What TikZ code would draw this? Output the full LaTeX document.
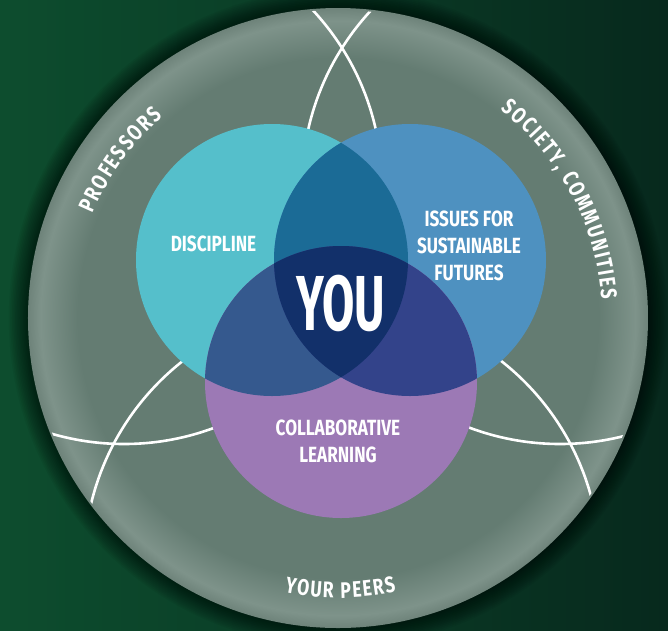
\documentclass[tikz,border=0pt]{standalone}
\usepackage{fontspec}
\usetikzlibrary{decorations.text}
\newfontfamily\dinfont[FakeStretch=0.78]{Fira Sans}
\newfontfamily\youfont[FakeStretch=0.6]{Fira Sans}
\newcommand\ringfont{\dinfont\bfseries\fontsize{22.5}{22.5}\selectfont}
\definecolor{bgleft}{HTML}{0D4D2E}
\definecolor{bgright}{HTML}{07291D}
\definecolor{discmid}{HTML}{647C72}
\definecolor{discrim}{HTML}{7E938A}
\definecolor{discedge}{HTML}{6E837A}
\definecolor{cyancol}{HTML}{55BFCB}
\definecolor{bluecol}{HTML}{4E91C0}
\definecolor{purpcol}{HTML}{9C79B5}
\definecolor{cbcol}{HTML}{1B6B96}
\definecolor{cpcol}{HTML}{35598E}
\definecolor{bpcol}{HTML}{33438A}
\definecolor{youcol}{HTML}{12306A}
\pgfdeclareradialshading{discshade}{\pgfpoint{0bp}{0bp}}{color(0bp)=(discmid); color(21bp)=(discmid); color(24bp)=(discrim); color(25bp)=(discedge); color(50bp)=(discedge)}
\tikzset{
  ring/.style={draw=white, line width=2.6pt},
  label/.style={text=white, font=\dinfont\bfseries\fontsize{22}{27}\selectfont, align=center},
  ringtext/.style={decorate, decoration={text along path, text color=white,
      text align=fit to path, text={|\ringfont|#1}}}
}
\begin{document}
\begin{tikzpicture}[x=1pt,y=1pt]
  \useasboundingbox (-338,-312) rectangle (330,318);
  % backdrop and the grey disc with its soft shadow
  \shade[left color=bgleft, right color=bgright] (-338,-312) rectangle (330,318);
  \foreach \k in {1,...,12}
    \fill[black, opacity=0.05] (0,0) circle ({310+1.6*\k});
  \shade[shading=discshade] (0,0) circle (310);
  % three big white rings, kept inside the disc
  \begin{scope}
    \clip (0,0) circle (308);
    \draw[ring] (-214,132) circle (258);
    \draw[ring] (222,132) circle (258);
    \draw[ring] (4,-246) circle (258);
  \end{scope}
  % the venn: circles, then the overlaps
  \coordinate (disc) at (-66,58);
  \coordinate (issu) at (72,58);
  \coordinate (coll) at (3,-64);
  \fill[cyancol] (disc) circle (136);
  \fill[bluecol] (issu) circle (136);
  \fill[purpcol] (coll) circle (136);
  \begin{scope}
    \clip (disc) circle (136);
    \fill[cbcol] (issu) circle (136);
    \fill[cpcol] (coll) circle (136);
  \end{scope}
  \begin{scope}
    \clip (issu) circle (136);
    \fill[bpcol] (coll) circle (136);
    \clip (disc) circle (136);
    \fill[youcol] (coll) circle (136);
  \end{scope}
  % labels
  \node[label] (discipline) at (-124.5,74) {DISCIPLINE};
  \node[label] (issues) at (131,72) {ISSUES FOR\\SUSTAINABLE\\FUTURES};
  \node[label] (collab) at (0,-123.5) {COLLABORATIVE\\LEARNING};
  \node[text=white, font=\youfont\bfseries\fontsize{78}{78}\selectfont] (you) at (3,15) {YOU};
  % words round the rim
  \path[ringtext={PROFESSORS}] (157:267) arc[start angle=157, end angle=131, radius=267];
  \path[ringtext={SOCIETY, COMMUNITIES}] (52:264) arc[start angle=52, end angle=4, radius=264];
  \path[ringtext={YOUR PEERS}] (-101:280) arc[start angle=-101, end angle=-78, radius=280];
\end{tikzpicture}
\end{document}
